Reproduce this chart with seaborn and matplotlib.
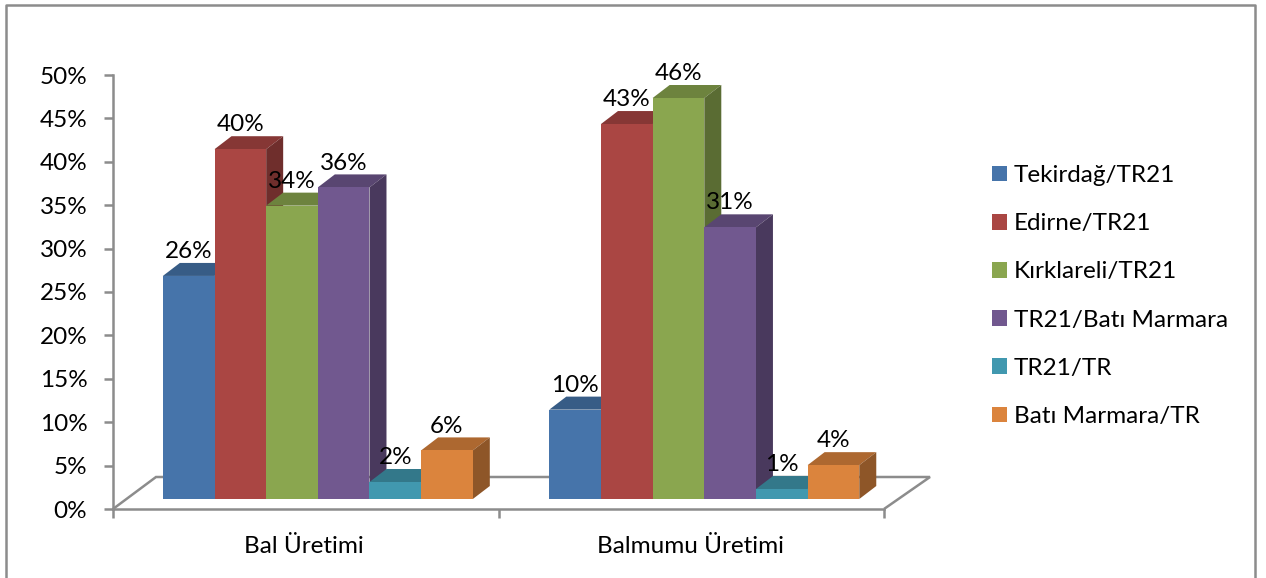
import matplotlib
matplotlib.use("Agg")
import matplotlib.pyplot as plt
from matplotlib.colors import to_rgb
from matplotlib.patches import Polygon, Rectangle
from matplotlib.lines import Line2D
from matplotlib.transforms import IdentityTransform
import pandas as pd
import seaborn as sns

categories = ["Bal Üretimi", "Balmumu Üretimi"]
series = ["Tekirdağ/TR21", "Edirne/TR21", "Kırklareli/TR21",
          "TR21/Batı Marmara", "TR21/TR", "Batı Marmara/TR"]
bal_values = [25.7, 40.3, 33.8, 35.9, 1.96, 5.6]
balmumu_values = [10.3, 43.2, 46.2, 31.3, 1.15, 3.9]
colors = ["#4674AA", "#AA4643", "#8AA64F", "#71588F", "#4198AF", "#DB843D"]
y_ticks = list(range(0, 55, 5))

W, H = 1266, 578
GRAY = "#8C8C8C"
LW = 1.8
sns.set_theme(style="white")
plt.rcParams["font.family"] = ["Lato", "DejaVu Sans"]
FS = 17.5

fig = plt.figure(figsize=(W / 100, H / 100), dpi=100, facecolor="white")
ax = fig.add_axes([113 / W, 1 - 509 / H, (884 - 113) / W, (509 - 75) / H])

df = pd.DataFrame({
    "category": categories * len(series),
    "series": [s for s in series for _ in categories],
    "value": [v for pair in zip(bal_values, balmumu_values) for v in pair],
})
BASE = 1.15
sns.barplot(data=df, x="category", y="value", hue="series", order=categories,
            hue_order=series, palette=colors, saturation=1, width=0.802, gap=0,
            errorbar=None, bottom=BASE, linewidth=0, legend=False, ax=ax)

ax.set_xlim(-0.53, 1.465)
ax.set_ylim(0, 50)
ax.set_xlabel("")
ax.set_ylabel("")
ax.set_yticks(y_ticks, [f"{t}%" for t in y_ticks], fontsize=FS, color="black")
ax.set_xticks([-0.035, 0.965], categories, fontsize=FS, color="black")
ax.set_xticks([-0.53, 0.4675, 1.465], minor=True)
ax.tick_params(axis="x", which="major", length=0, pad=19.5)
ax.tick_params(axis="x", which="minor", length=6.5, width=LW, color=GRAY, bottom=True)
ax.tick_params(axis="y", length=6.5, width=LW, color=GRAY, pad=12, left=True)
for s in ["top", "right"]:
    ax.spines[s].set_visible(False)
for s in ["left", "bottom"]:
    ax.spines[s].set_color(GRAY)
    ax.spines[s].set_linewidth(LW)
ax.patch.set_alpha(0)

DX, DY = 17, 13   # depth of the pseudo-3D extrusion, in pixels
ident = IdentityTransform()
# floor
x0, y0 = ax.transAxes.transform((0, 0))
x1, _ = ax.transAxes.transform((1, 0))
floor = [(x0, y0), (x0 + 43, y0 + 32), (x1 + 46, y0 + 32), (x1, y0)]
fig.add_artist(Polygon(floor, closed=False, fill=False, edgecolor=GRAY, linewidth=LW,
                       transform=ident, zorder=1))
ax.set_zorder(2)


def shade(c, f):
    return tuple(v * f for v in to_rgb(c))


for i, cont in enumerate(ax.containers):
    for p in cont.patches:
        p.set_zorder(4 + 2 * i)
        (a, b) = ax.transData.transform((p.get_x(), p.get_y()))
        (c, d) = ax.transData.transform((p.get_x() + p.get_width(), p.get_y() + p.get_height()))
        top = [(a, d), (a + DX, d + DY), (c + DX, d + DY), (c, d)]
        side = [(c, b), (c, d), (c + DX, d + DY), (c + DX, b + DY)]
        ax.add_patch(Polygon(top, closed=True, facecolor=shade(colors[i], 0.79), edgecolor="none",
                             transform=ident, clip_on=False, zorder=3 + 2 * i))
        ax.add_patch(Polygon(side, closed=True, facecolor=shade(colors[i], 0.65), edgecolor="none",
                             transform=ident, clip_on=False, zorder=3 + 2 * i))
    labels = [f"{round(p.get_height())}%" for p in cont.patches]
    for t in ax.bar_label(cont, labels=labels, padding=10, fontsize=FS, color="black"):
        t.set_zorder(30)

handles = [Rectangle((0, 0), 1, 1, facecolor=c, edgecolor="none") for c in colors]
ax.legend(handles, series, loc="upper left", bbox_to_anchor=(992 / W, 1 - 165 / H),
          bbox_transform=fig.transFigure, frameon=False, fontsize=FS, handlelength=0.617,
          handleheight=0.617, handletextpad=0.29, labelspacing=1.12, borderpad=0, borderaxespad=0,
          labelcolor="black")

fig.add_artist(Line2D([6 / W, 6 / W, 1255 / W, 1255 / W], [0, 1 - 5 / H, 1 - 5 / H, 0],
                      color=GRAY, linewidth=LW, transform=fig.transFigure))
fig.savefig("out.png", dpi=100, facecolor="white")
